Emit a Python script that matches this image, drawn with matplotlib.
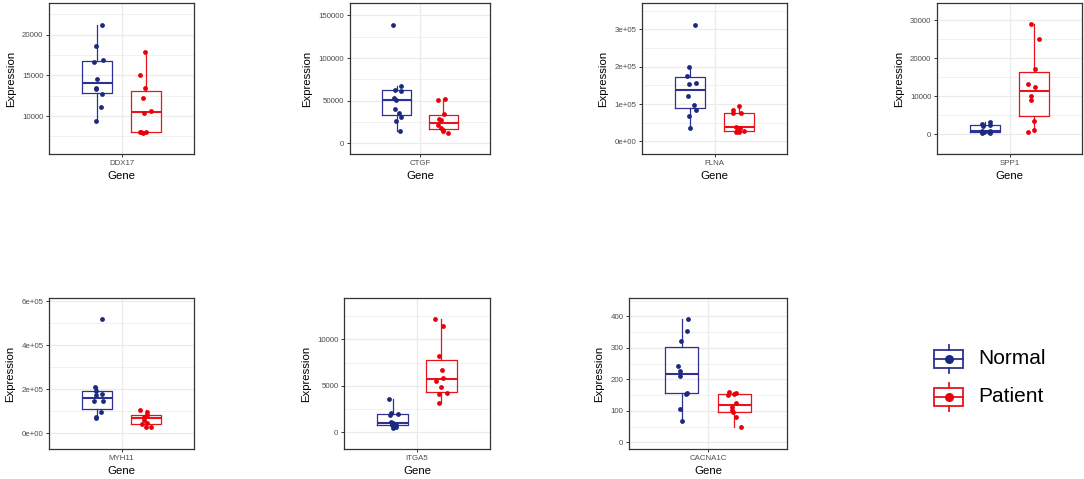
import numpy as np
import matplotlib.pyplot as plt
from matplotlib.patches import Rectangle
from matplotlib.ticker import FuncFormatter, MultipleLocator

plt.rcParams['font.family'] = ['Liberation Sans', 'DejaVu Sans']

genes = ['DDX17', 'CTGF', 'FLNA', 'SPP1', 'MYH11', 'ITGA5', 'CACNA1C']
groups = ['Normal', 'Patient']

# expression values (10-11 samples per group)
ddx17_normal = [21190, 18607, 16885, 16639, 14549, 13484, 13279, 12705, 11107, 9385]
ddx17_patient = [17910, 15082, 13402, 12254, 10615, 10328, 8074, 7951, 8074, 8000]
ctgf_normal = [14487, 25842, 31000, 35500, 39937, 50900, 53250, 61472, 62647, 67345, 138996]
ctgf_patient = [12529, 14500, 16000, 17500, 21500, 27000, 29000, 34000, 51000, 52075]
flna_normal = [36705, 67144, 85049, 96688, 120859, 153088, 155774, 176365, 197851, 312444]
flna_patient = [24172, 24172, 26858, 28648, 36705, 39391, 75201, 75201, 84154, 95792]
spp1_normal = [300, 400, 500, 600, 800, 950, 2200, 2544, 2807, 3246]
spp1_patient = [614, 1228, 3421, 8947, 10175, 12456, 13333, 17193, 25088, 28860]
myh11_normal = [71212, 75758, 98485, 145455, 145455, 174242, 177273, 193939, 210606, 516667]
myh11_patient = [27000, 30000, 40909, 47000, 62000, 74000, 78000, 82000, 95455, 106061]
itga5_normal = [504, 600, 760, 800, 950, 1064, 1900, 2000, 2050, 3561]
itga5_patient = [3201, 4173, 4209, 4928, 5540, 5899, 6655, 8165, 11475, 12158]
cacna1c_normal = [68, 106, 155, 158, 209, 227, 243, 322.5, 352, 390.5]
cacna1c_patient = [48, 82, 96, 102, 112, 126, 150.6, 155, 158, 160]

# horizontal jitter of the points as seen in the picture (x units)
ddx17_jit = ([0.04, -0.012, 0.045, -0.026, 0.0, -0.01, -0.007, 0.04, 0.032, -0.012],
             [-0.006, -0.05, -0.003, -0.022, 0.047, -0.017, -0.05, -0.022, 0.006, -0.036])
ctgf_jit = ([0.03, -0.003, 0.036, 0.02, -0.014, -0.008, -0.019, 0.041, -0.014, 0.041, -0.028],
            [0.044, 0.0, -0.006, -0.019, -0.044, -0.02, -0.033, 0.006, -0.047, 0.014])
flna_jit = ([0.001, -0.01, 0.043, 0.034, -0.018, -0.01, 0.045, -0.029, -0.007, 0.037],
            [-0.018, 0.004, -0.01, 0.045, 0.01, -0.018, -0.048, 0.018, -0.043, 0.001])
spp1_jit = ([-0.03, 0.04, -0.01, 0.03, -0.03, 0.04, -0.02, 0.035, -0.03, 0.04],
            [-0.045, 0.0, 0.0, -0.023, -0.021, 0.015, -0.051, 0.007, 0.048, -0.018])
myh11_jit = ([-0.014, -0.008, 0.028, -0.03, 0.044, -0.014, 0.041, -0.011, -0.019, 0.036],
             [0.047, 0.0, -0.028, 0.014, -0.01, -0.01, 0.0, 0.01, 0.008, -0.044])
itga5_jit = ([0.001, 0.03, 0.029, -0.008, 0.0, -0.01, -0.018, 0.04, -0.017, -0.032],
             [-0.017, -0.017, 0.047, -0.003, -0.044, 0.011, 0.003, -0.022, 0.017, -0.052])
cacna1c_jit = ([0.0, -0.009, 0.032, 0.037, -0.014, -0.009, -0.027, -0.006, 0.037, 0.045],
               [0.051, 0.015, -0.013, -0.018, -0.015, 0.01, -0.046, -0.003, 0.01, -0.041])

values = [(ddx17_normal, ddx17_patient), (ctgf_normal, ctgf_patient),
          (flna_normal, flna_patient), (spp1_normal, spp1_patient),
          (myh11_normal, myh11_patient), (itga5_normal, itga5_patient),
          (cacna1c_normal, cacna1c_patient)]
jitters = [ddx17_jit, ctgf_jit, flna_jit, spp1_jit, myh11_jit, itga5_jit, cacna1c_jit]

# panel boxes in pixels (left, top, right, bottom), y limits and tick steps
panel_px = [(49, 3, 194, 154), (350, 3, 490, 154), (642, 3, 787, 154), (937, 3, 1082, 154),
            (49, 298, 194, 449), (344, 298, 490, 449), (629, 298, 787, 449)]
ylims = [(5332, 23894), (-12530, 164490), (-34000, 370700), (-5175, 34474),
         (-71212, 613636), (-1799, 14460), (-21, 458)]
ysteps = [5000, 50000, 100000, 10000, 200000, 5000, 100]
sci = [False, False, True, False, True, False, False]

box_cols = ['#2E3192', '#E8141B']
pt_cols = ['#1B2A7E', '#E8000B']

W, H = 1084, 479
fig = plt.figure(figsize=(W / 100, H / 100), dpi=100)

for i, gene in enumerate(genes):
    l, t, r, b = panel_px[i]
    ax = fig.add_axes([l / W, 1 - b / H, (r - l) / W, (b - t) / H])
    ax.set_axisbelow(True)
    for k in range(2):
        pos = 0.8 + 0.4 * k
        c = box_cols[k]
        ax.boxplot([values[i][k]], positions=[pos], widths=0.25, whis=1.5,
                   showfliers=False, showcaps=False,
                   boxprops=dict(color=c, linewidth=0.9),
                   whiskerprops=dict(color=c, linewidth=0.9),
                   medianprops=dict(color=c, linewidth=1.5))
        xs = pos + np.array(jitters[i][k])
        ax.scatter(xs, values[i][k], s=12, color=pt_cols[k], linewidths=0, zorder=3)

    ax.set_xlim(0.4, 1.6)
    ax.set_ylim(*ylims[i])
    ax.set_xticks([1])
    ax.set_xticklabels([gene])
    step = ysteps[i]
    ax.yaxis.set_major_locator(MultipleLocator(step))
    ax.yaxis.set_minor_locator(MultipleLocator(step / 2))
    if sci[i]:
        ax.yaxis.set_major_formatter(FuncFormatter(lambda v, p: f'{v:.0e}'))
    else:
        ax.yaxis.set_major_formatter(FuncFormatter(lambda v, p: f'{v:.0f}'))
    ax.grid(which='major', color='#EBEBEB', linewidth=0.9)
    ax.grid(which='minor', axis='y', color='#EBEBEB', linewidth=0.5)
    ax.tick_params(which='major', length=2.5, width=0.7, color='#333333',
                   labelsize=5.7, labelcolor='#4D4D4D', pad=1.5)
    ax.tick_params(which='minor', length=0)
    for s in ax.spines.values():
        s.set_color('#333333')
        s.set_linewidth(0.9)
    ax.set_xlabel('Gene', fontsize=8.2, labelpad=3.5)
    ax.set_ylabel('Expression', fontsize=8.2, labelpad=4.5)

# legend drawn in pixel coordinates
lg = fig.add_axes([0, 0, 1, 1])
lg.set_xlim(0, W)
lg.set_ylim(H, 0)
lg.axis('off')
for k, (name, yc) in enumerate(zip(groups, [359, 397])):
    c = box_cols[k]
    lg.add_patch(Rectangle((934, yc - 9), 29, 18, fill=False, edgecolor=c, linewidth=1.3))
    lg.plot([934, 963], [yc, yc], color=c, linewidth=1.3)
    lg.plot([948.5, 948.5], [yc - 14, yc - 9], color=c, linewidth=1.3)
    lg.plot([948.5, 948.5], [yc + 9, yc + 14], color=c, linewidth=1.3)
    lg.plot([948.5], [yc], marker='o', markersize=6.5, color=pt_cols[k], markeredgewidth=0)
    lg.text(978, yc, name, fontsize=15, va='center', ha='left', color='black')

fig.savefig('out.png', dpi=100)
